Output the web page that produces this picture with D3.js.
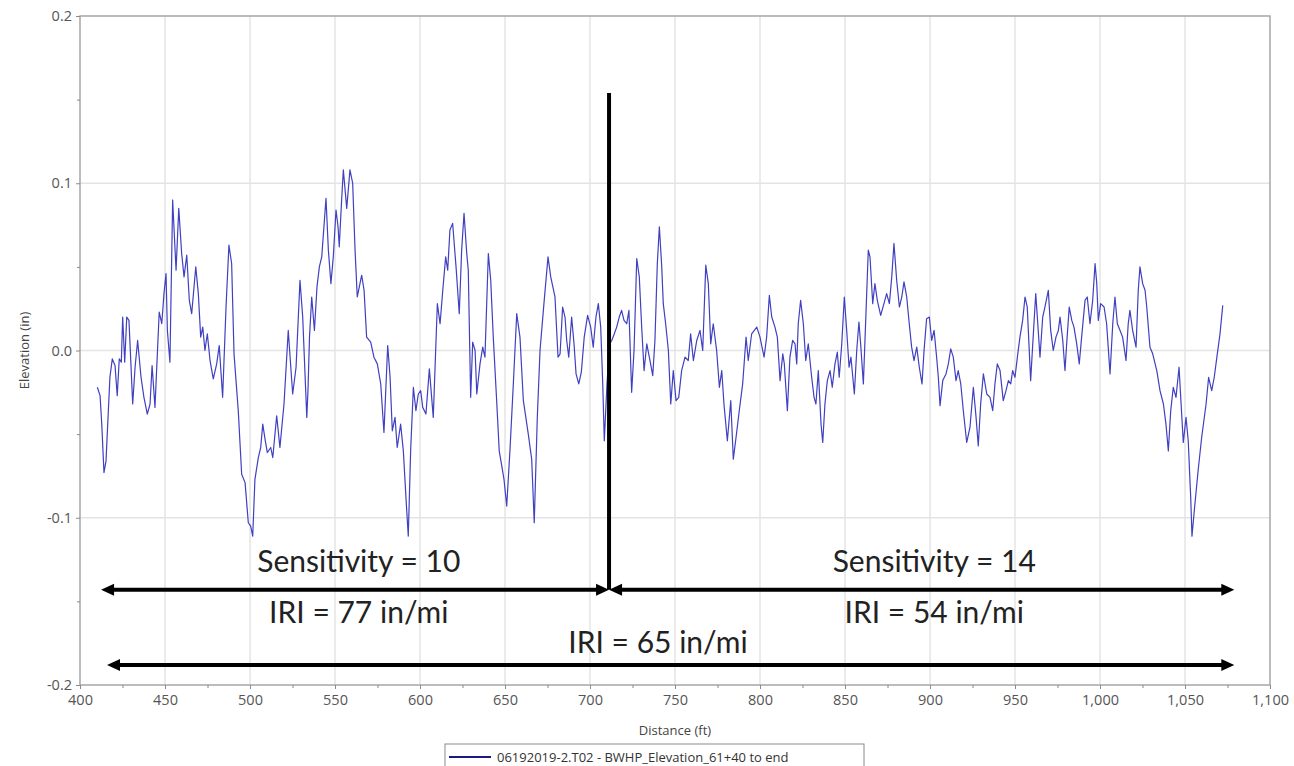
<!DOCTYPE html>
<html lang="en">
<head>
    <meta charset="UTF-8">
    <script src="https://d3js.org/d3.v7.min.js"></script>
    <title>Elevation profile</title>
    <style>
        body { margin: 0; background: #fff; }
        .axis text { font-family: "Open Sans", sans-serif; fill: #555; }
        .annot { font-family: Lato, "Open Sans", sans-serif; fill: #222; }
    </style>
</head>
<body>

    <div id="chart"></div>

    <script>
        // profile (ft, in)
        let distance = [
            410.2, 411.8, 412.8, 414.1, 415.3, 417.6, 419.0, 420.6, 421.9, 423.1, 424.3, 425.1, 426.3, 427.5, 428.8,
            431.0, 432.4, 433.9, 435.9, 437.6, 439.6, 441.2, 442.4, 444.1, 445.5, 446.6, 448.1, 449.4, 450.6, 451.4,
            452.9, 454.5, 456.5, 458.1, 459.8, 461.2, 462.8, 464.3, 465.7, 468.1, 469.6, 471.0, 472.2, 473.5, 474.9,
            476.5, 478.4, 480.4, 481.9, 483.9, 485.9, 487.6, 489.2, 490.6, 493.1, 495.1, 497.1, 499.0, 500.4, 501.6,
            502.9, 504.9, 506.3, 507.5, 509.0, 510.2, 512.2, 513.4, 515.7, 517.6, 520.0, 522.5, 525.1, 527.1, 529.4,
            531.0, 533.4, 534.1, 535.0, 536.3, 537.9, 539.4, 540.8, 542.2, 544.7, 546.1, 547.6, 549.0, 550.6, 551.8,
            552.5, 553.9, 554.9, 556.9, 558.8, 560.4, 561.8, 563.1, 565.7, 567.1, 568.6, 571.0, 572.9, 574.9, 576.9,
            578.8, 581.0, 582.4, 583.7, 585.3, 586.6, 588.6, 590.2, 591.8, 593.1, 594.5, 596.1, 597.6, 599.0, 600.4,
            601.6, 603.5, 605.5, 607.8, 610.2, 611.8, 613.4, 615.1, 616.3, 617.6, 619.2, 621.2, 623.1, 624.5, 625.9,
            627.5, 628.4, 629.8, 631.0, 632.4, 633.4, 635.3, 636.9, 638.2, 640.2, 641.6, 643.1, 645.1, 646.6, 648.1,
            649.4, 651.0, 652.9, 654.9, 656.9, 658.8, 660.8, 663.7, 665.7, 667.2, 669.0, 670.6, 672.9, 675.3, 676.9,
            679.4, 681.2, 682.4, 683.9, 685.3, 686.3, 687.5, 689.2, 690.6, 691.8, 693.4, 694.9, 696.6, 698.6, 700.4,
            701.9, 703.5, 704.9, 706.3, 707.5, 708.4, 710.0, 711.5, 712.8, 714.3, 715.7, 717.2, 718.6, 720.0, 721.6,
            722.9, 724.5, 725.9, 727.5, 729.0, 730.4, 731.8, 733.4, 735.3, 736.9, 738.2, 739.6, 740.8, 742.2, 743.1,
            744.5, 746.1, 747.5, 749.0, 750.6, 752.2, 753.9, 755.9, 757.8, 759.2, 760.8, 762.8, 764.7, 766.3, 768.1,
            769.6, 771.0, 772.5, 774.5, 776.1, 777.5, 778.8, 780.8, 782.8, 784.3, 785.9, 787.8, 789.8, 791.8, 793.1,
            795.1, 798.1, 800.0, 802.4, 803.9, 805.5, 806.9, 808.8, 810.2, 811.8, 813.4, 814.3, 816.1, 817.6, 819.2,
            820.6, 821.6, 822.5, 823.9, 825.5, 826.9, 828.4, 830.4, 831.8, 832.9, 834.3, 835.9, 836.9, 838.2, 839.6,
            841.2, 842.5, 844.1, 845.5, 846.6, 848.1, 849.6, 851.0, 852.4, 853.5, 855.5, 856.9, 858.2, 859.2, 860.8,
            862.4, 863.7, 864.7, 866.3, 867.6, 869.0, 871.0, 872.9, 874.5, 876.1, 877.5, 878.8, 880.4, 882.0, 883.4,
            884.7, 886.3, 887.8, 889.2, 890.6, 892.2, 893.7, 895.3, 896.5, 898.0, 899.6, 901.0, 902.4, 903.9, 904.9,
            905.9, 907.5, 909.4, 910.8, 912.2, 913.7, 915.3, 916.6, 918.1, 919.6, 921.6, 923.5, 925.5, 927.1, 928.4,
            929.8, 931.4, 933.4, 935.3, 936.9, 938.2, 939.6, 941.2, 943.1, 944.7, 946.1, 947.5, 948.6, 950.0, 951.4,
            952.9, 954.5, 955.9, 957.2, 959.2, 960.8, 962.2, 963.4, 964.7, 966.3, 967.6, 969.6, 971.0, 972.5, 974.1,
            975.5, 976.5, 978.1, 979.4, 980.4, 981.9, 983.4, 984.7, 986.3, 987.8, 989.2, 991.2, 992.5, 994.1, 995.7,
            997.1, 998.1, 999.0, 1000.4, 1002.4, 1003.9, 1005.9, 1007.5, 1008.8, 1010.2, 1011.8, 1013.3, 1015.3, 1016.6, 1017.6,
            1019.2, 1021.2, 1022.5, 1023.5, 1025.1, 1026.5, 1027.5, 1029.4, 1031.0, 1033.4, 1035.3, 1037.3, 1038.8, 1040.2, 1041.6,
            1043.1, 1044.7, 1046.5, 1047.6, 1049.0, 1050.6, 1051.9, 1053.4, 1054.1, 1055.9, 1057.8, 1059.8, 1062.4, 1063.9, 1065.7,
            1067.2, 1069.0, 1070.6, 1072.2
        ];
        let elevation = [
            -0.022, -0.027, -0.044, -0.073, -0.066, -0.016, -0.005, -0.009, -0.027, -0.005, -0.007, 0.020, -0.007, 0.020, 0.018,
            -0.032, -0.010, 0.006, -0.016, -0.028, -0.038, -0.032, -0.009, -0.034, -0.002, 0.023, 0.016, 0.034, 0.046, 0.012,
            -0.007, 0.090, 0.048, 0.085, 0.058, 0.044, 0.057, 0.030, 0.022, 0.050, 0.034, 0.008, 0.014, 0.000, 0.010,
            -0.006, -0.017, -0.008, 0.003, -0.028, 0.026, 0.063, 0.052, -0.002, -0.036, -0.074, -0.079, -0.103, -0.105, -0.111,
            -0.077, -0.064, -0.058, -0.044, -0.054, -0.061, -0.058, -0.064, -0.039, -0.058, -0.032, 0.012, -0.026, -0.010, 0.042,
            0.020, -0.040, -0.024, 0.008, 0.032, 0.012, 0.038, 0.050, 0.056, 0.091, 0.060, 0.040, 0.056, 0.084, 0.074,
            0.062, 0.090, 0.108, 0.085, 0.108, 0.100, 0.060, 0.032, 0.045, 0.036, 0.008, 0.005, -0.004, -0.008, -0.020,
            -0.049, 0.003, -0.016, -0.048, -0.040, -0.058, -0.044, -0.060, -0.089, -0.111, -0.060, -0.022, -0.036, -0.026, -0.024,
            -0.034, -0.038, -0.011, -0.040, 0.028, 0.016, 0.036, 0.056, 0.048, 0.072, 0.076, 0.050, 0.022, 0.060, 0.082,
            0.058, 0.048, -0.028, 0.005, 0.000, -0.026, -0.008, 0.002, -0.004, 0.058, 0.042, 0.008, -0.030, -0.060, -0.069,
            -0.077, -0.093, -0.060, -0.020, 0.022, 0.008, -0.030, -0.050, -0.065, -0.103, -0.040, 0.000, 0.028, 0.056, 0.044,
            0.032, -0.004, -0.002, 0.026, 0.020, 0.006, -0.004, 0.020, 0.004, -0.014, -0.020, -0.013, 0.008, 0.021, 0.014,
            0.002, 0.020, 0.028, 0.014, -0.020, -0.054, -0.020, 0.004, 0.006, 0.010, 0.014, 0.020, 0.024, 0.018, 0.016,
            0.024, -0.025, 0.000, 0.055, 0.044, 0.014, -0.012, 0.004, -0.006, -0.015, 0.006, 0.052, 0.074, 0.050, 0.028,
            0.016, 0.000, -0.032, -0.012, -0.030, -0.028, -0.012, -0.004, -0.006, 0.010, -0.006, 0.006, 0.012, 0.000, 0.051,
            0.040, 0.004, 0.016, 0.000, -0.022, -0.012, -0.032, -0.054, -0.030, -0.065, -0.052, -0.036, -0.020, 0.008, -0.006,
            0.010, 0.014, 0.008, -0.004, 0.008, 0.033, 0.020, 0.014, 0.008, -0.018, -0.002, -0.008, -0.036, -0.004, 0.006,
            0.004, -0.008, 0.016, 0.030, 0.016, -0.006, 0.004, -0.016, -0.028, -0.032, -0.012, -0.044, -0.055, -0.032, -0.018,
            -0.012, -0.022, -0.008, -0.001, -0.016, 0.004, 0.032, 0.012, -0.010, -0.004, -0.026, 0.000, 0.017, 0.004, -0.020,
            0.024, 0.060, 0.056, 0.028, 0.040, 0.030, 0.021, 0.028, 0.034, 0.028, 0.044, 0.064, 0.042, 0.026, 0.032,
            0.041, 0.032, 0.016, 0.002, -0.006, 0.002, -0.010, -0.020, 0.000, 0.019, 0.020, 0.006, 0.012, -0.004, -0.016,
            -0.033, -0.018, -0.014, -0.008, 0.001, -0.004, -0.018, -0.012, -0.020, -0.036, -0.055, -0.046, -0.022, -0.040, -0.057,
            -0.032, -0.014, -0.026, -0.028, -0.036, -0.020, -0.008, -0.012, -0.030, -0.024, -0.018, -0.020, -0.012, -0.016, -0.004,
            0.008, 0.018, 0.032, 0.026, -0.018, 0.010, 0.034, 0.016, -0.004, 0.020, 0.026, 0.036, 0.012, 0.000, 0.008,
            0.012, 0.020, 0.006, -0.012, 0.004, 0.026, 0.018, 0.014, 0.004, -0.008, 0.008, 0.030, 0.032, 0.016, 0.030,
            0.052, 0.040, 0.018, 0.028, 0.026, 0.016, -0.014, 0.016, 0.032, 0.016, 0.012, 0.008, -0.006, 0.016, 0.024,
            0.012, 0.002, 0.036, 0.050, 0.040, 0.036, 0.026, 0.002, -0.002, -0.012, -0.024, -0.032, -0.044, -0.060, -0.036,
            -0.022, -0.028, -0.010, -0.030, -0.055, -0.040, -0.054, -0.089, -0.111, -0.091, -0.071, -0.052, -0.032, -0.016, -0.024,
            -0.016, -0.002, 0.010, 0.027
        ];

        let xTicks = [400, 450, 500, 550, 600, 650, 700, 750, 800, 850, 900, 950, 1000, 1050, 1100];
        let yTicks = [-0.2, -0.1, 0.0, 0.1, 0.2];

        // annotation values
        let splitAt = 711.2;
        let sensitivities = [
            {label: "Sensitivity = 10", iri: "IRI = 77 in/mi", from: 412.4, to: 711.2, mid: 564},
            {label: "Sensitivity = 14", iri: "IRI = 54 in/mi", from: 711.2, to: 1079, mid: 902.5}
        ];
        let overall = {iri: "IRI = 65 in/mi", from: 415.9, to: 1079, mid: 740};
        let legendLabel = "06192019-2.T02 - BWHP_Elevation_61+40 to end";

        let win_width = 1294, win_height = 766;
        let margin = {top: 16, right: 24, bottom: 81, left: 80};
        let width = win_width - margin.left - margin.right;
        let height = win_height - margin.top - margin.bottom;

        let svg = d3.select("#chart").append("svg")
            .attr("width", win_width)
            .attr("height", win_height);
        let g = svg.append("g")
            .attr("transform", "translate(" + margin.left + "," + margin.top + ")");

        let x = d3.scaleLinear().domain([400, 1100]).range([0, width]);
        let y = d3.scaleLinear().domain([-0.2, 0.2]).range([height, 0]);

        // grid
        g.append("g").selectAll("line").data(xTicks.slice(1, -1)).enter().append("line")
            .attr("x1", d => x(d)).attr("x2", d => x(d))
            .attr("y1", 0).attr("y2", height)
            .attr("stroke", "#e4e4e4").attr("stroke-width", 1.5);
        g.append("g").selectAll("line").data(yTicks.slice(1, -1)).enter().append("line")
            .attr("x1", 0).attr("x2", width)
            .attr("y1", d => y(d)).attr("y2", d => y(d))
            .attr("stroke", "#e4e4e4").attr("stroke-width", 1.5);

        // frame
        g.append("rect")
            .attr("width", width).attr("height", height)
            .attr("fill", "none").attr("stroke", "#a6a6a6").attr("stroke-width", 1.5);

        // axes
        let xAxis = g.append("g").attr("class", "axis")
            .attr("transform", "translate(0," + height + ")")
            .call(d3.axisBottom(x).tickValues(xTicks).tickSize(4).tickPadding(6)
                .tickFormat(d3.format(",")));
        let xMinor = g.append("g")
            .attr("transform", "translate(0," + height + ")")
            .call(d3.axisBottom(x).tickValues(d3.range(425, 1100, 50)).tickSize(3).tickFormat(""));
        let yAxis = g.append("g").attr("class", "axis")
            .call(d3.axisLeft(y).tickValues(yTicks).tickSize(4).tickPadding(4)
                .tickFormat(d => d.toFixed(1)));
        let yMinor = g.append("g")
            .call(d3.axisLeft(y).tickValues([-0.15, -0.05, 0.05, 0.15]).tickSize(3).tickFormat(""));
        [xAxis, xMinor, yAxis, yMinor].forEach(a => {
            a.select(".domain").remove();
            a.selectAll("line").attr("stroke", "#8a8a8a");
        });
        xAxis.selectAll("text").style("font-size", "14.5px");
        yAxis.selectAll("text").style("font-size", "14.5px");

        // axis titles
        svg.append("text")
            .attr("x", margin.left + x(750)).attr("y", 735)
            .attr("text-anchor", "middle")
            .style("font-family", "Open Sans, sans-serif").style("font-size", "13px").style("fill", "#444")
            .text("Distance (ft)");
        svg.append("text")
            .attr("transform", "translate(29," + (margin.top + y(0)) + ") rotate(-90)")
            .attr("text-anchor", "middle")
            .style("font-family", "Open Sans, sans-serif").style("font-size", "13px").style("fill", "#444")
            .text("Elevation (in)");

        // profile line
        let profile = distance.map((d, i) => ({d: d, e: elevation[i]}));
        g.append("path")
            .datum(profile)
            .attr("fill", "none")
            .attr("stroke", "#4040c0")
            .attr("stroke-width", 1.2)
            .attr("stroke-linejoin", "round")
            .attr("d", d3.line().x(p => x(p.d)).y(p => y(p.e)));

        // arrows
        let arrowHead = function (tipX, yy, dir) {
            let len = 13, half = 6;
            g.append("path")
                .attr("d", "M" + tipX + "," + yy + "L" + (tipX - dir * len) + "," + (yy - half) +
                    "L" + (tipX - dir * len) + "," + (yy + half) + "Z")
                .attr("fill", "#000");
        };
        let doubleArrow = function (from, to, yv) {
            let x1 = x(from), x2 = x(to), yy = y(yv);
            g.append("line")
                .attr("x1", x1 + 8).attr("x2", x2 - 8)
                .attr("y1", yy).attr("y2", yy)
                .attr("stroke", "#000").attr("stroke-width", 4);
            arrowHead(x1, yy, -1);
            arrowHead(x2, yy, 1);
        };

        g.append("line")
            .attr("x1", x(splitAt)).attr("x2", x(splitAt))
            .attr("y1", y(0.154)).attr("y2", y(-0.143))
            .attr("stroke", "#000").attr("stroke-width", 4);

        sensitivities.forEach(s => {
            doubleArrow(s.from, s.to, -0.143);
            g.append("text").attr("class", "annot")
                .attr("x", x(s.mid)).attr("y", y(-0.1325))
                .attr("text-anchor", "middle").style("font-size", "30px")
                .text(s.label);
            g.append("text").attr("class", "annot")
                .attr("x", x(s.mid)).attr("y", y(-0.163))
                .attr("text-anchor", "middle").style("font-size", "30px")
                .text(s.iri);
        });
        doubleArrow(overall.from, overall.to, -0.188);
        g.append("text").attr("class", "annot")
            .attr("x", x(overall.mid)).attr("y", y(-0.181))
            .attr("text-anchor", "middle").style("font-size", "30px")
            .text(overall.iri);

        // legend
        let legend = svg.append("g").attr("transform", "translate(445,744)");
        legend.append("rect")
            .attr("width", 419).attr("height", 30)
            .attr("fill", "#fff").attr("stroke", "#8a8a8a").attr("stroke-width", 1);
        legend.append("line")
            .attr("x1", 4).attr("x2", 46).attr("y1", 13).attr("y2", 13)
            .attr("stroke", "#1a1a80").attr("stroke-width", 2);
        legend.append("text")
            .attr("x", 52).attr("y", 17.5)
            .style("font-family", "Open Sans, sans-serif").style("font-size", "13px").style("fill", "#333")
            .text(legendLabel);
    </script>

</body>
</html>
